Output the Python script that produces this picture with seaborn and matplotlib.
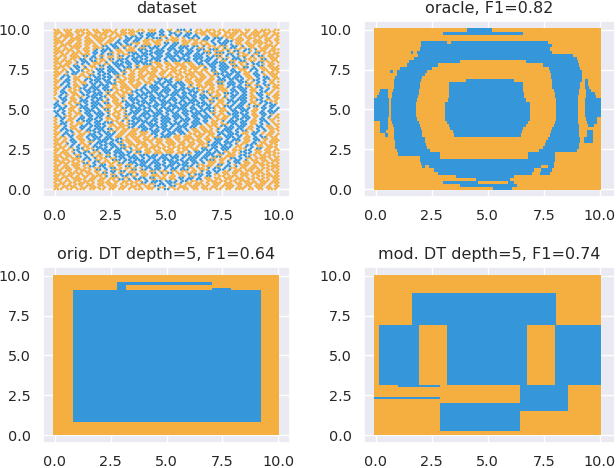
import numpy as np
import pandas as pd
import matplotlib.pyplot as plt
from matplotlib.colors import ListedColormap
import seaborn as sns

BLUE = '#3597da'
ORANGE = '#f5ae40'
TICKS = [0, 2.5, 5, 7.5, 10]
TICK_LABELS = ['0.0', '2.5', '5.0', '7.5', '10.0']

TITLES = ['dataset', 'oracle, F1=0.82', 'orig. DT depth=5, F1=0.64', 'mod. DT depth=5, F1=0.74']

# dataset, one string per row from y=10 down to y=0
DATASET_ROWS = [
    'oo ooo oooo oo ooo o oooo oo ooo b oo bbb b oo ooo oo oooo oo o ooo oo',
    'ooo oo o ooo oooo oo oooo bb bbb b  bb b bb ooo oo o oooo oo ooo oo oo',
    'o oooo oo o ooo oo oo b bb b bb  oo o b bb bb  b oo oooo o oo oooo o o',
    'oo o oooo oo ooo oo b bb bb ooo oo oooo o ooo bb b b b oooo o oo oo oo',
    'ooo oo oo ooo o oo bb b ooo oo oo bb bb oo ooo o b bbb  oo oo oooo o o',
    'o oo oooo o oo bb bb ooo b bbb bb b bb bbb bb b oo ooo bb b oo o oooo ',
    'oo ooo o oo ob bbb oo ooo bbb b bb bbb b bb bbb bbb ooo oo bb b oo ooo',
    'ooo o ooo o bb b oo oo bbb bb bbbb b bbb bb b bbb bbb oo oo b bb oo oo',
    'o oo ooo bb b oo oo bb bb bbb b bb bbbb bb bbb b bbb b b ooo b bb oo o',
    'oo o oo bb b ooo bb bbb bb bb bbb b bb bbb bbb bb b bb bbb oo o bb oo ',
    'ooo oo b bb ooo b bb bbb bbbb ooo oo oo ooo bb b bbbb bb ooo b bb oo o',
    'o ooo bb o oo bb b bbb b oo ooo oo oo ooo oo oo bb bbb bb oo o bb oo o',
    'oo o b b oo  bbb bb b oo oooo oo o ooo oo ooo oo b bbb b ooo bb oo ooo',
    'ooo b bb oo b bb bbb oo o oo ooo oo oo oo oooo o oo bb bbb oo b b oo o',
    'oo bb o oo bb bb b ooo oo ooo oo o oo oo ooo oo ooo bbb bb oo bb o oo ',
    'o b b oo  bb bbb b oo ooo oo oo bbb b oo oo ooo oo bb bbb b oo b bb oo',
    'oo bb o oo b bb bb ooo oo o oo bb bbb bb oo oo oo ooo bb bbb o b b o o',
    'o b b oo bb b bbb oo oo ooo b bb b bbb bb b oo ooo oo bb b bb oo bb oo',
    'oo b oo bb bbb bb oo ooo o bb bbb bb b bbb bb o oo ooo b bbb oo b b oo',
    'o bb oo b bbb b oo o oo bb b bbb bbb bb b bbb bb oo oo bb bb oo bb o o',
    'o b o oo bb bbb ooo oo bb bbb b bb bbbb b bb bb b oo o bb bb o bb o oo',
    'o bb oo b b bbb o oo b bbb bb bbb b bb bbb b bbb bb oo b bbb oo b b oo',
    ' b b oo bbb bb oo oo bb b bbb bb bbb b bb bbb b bb oo bbb bb oo bb oo ',
    'bb o o bb b bbb oo oo bbb bb b bbbb bb bbb bb bbb o oo b bb b oo b bb ',
    'b bb oo bbb bb ooo o bb bbb bb b bbb bbbb bb b bbb oo b bbb b o bb b b',
    'bb b oo b bbb b oo oo b bbb bbb bb bb b bbb bbb bb ooo bb bb oo b bbb ',
    ' b b o oo bb bbb oo o bb b bbb bbb b bb bb bbb b b oo bbb bb oo bb o o',
    'o bb oo bb b bb oo oo b bbb bb b bbb bbb b bb bbb o oo bb bbb o b b oo',
    'o b oo b bbb bb o oo b bb bbb bb bbb b bbb bb bb oo b bbb bb oo bb o o',
    'o bb o oo bb bbb oo oo bbb b bbb bb bbb bb bbb o oo oo bb bb oo b b oo',
    'oo b oo bb b bbb o ooo bb bbb b bbb b bbb bb oo o oo bbb bb oo bb oo o',
    'o b bb oo bbb bb ooo oo oo bb bbb bb bbb b oo ooo o bbb b bb o b b o o',
    'oo bb o oo bb b bbb oo ooo oo bb b bbb bb oo oo oo bb bbb oo bb o oo o',
    'o oo b oo b bbb bb oo o ooo oo b bbb oo ooo oo o ooo bbb b oo b bb oo ',
    'oo o bb oo bb bbb bb ooo oo ooo oo oo o oo ooo oo bb b bbb oo bb o ooo',
    'ooo b b oo b bb bbb oo oo ooo o oo ooo oo oo ooo bbb bb b oo bb oo oo ',
    'o oo b b oo bbb b bb ooo o oo ooo oo oo ooo o oo bb bbb oo b b oo ooo ',
    'oo oo bb oo bb bbb bb o ooo oo oo ooo o oo oo bbb b bb ooo bb oo oo oo',
    'o ooo b bb oo b bb bbb b oo oo ooo oo oo oo bb bbb bb oo o bb oo oo oo',
    'ooo oo bb b ooo bb bbb bbb b bbb bb bbb b bbb bb bbb ooo b bb o ooo oo',
    'oo oo oo b b oo o bbb bb bbb b bb bbb bb bbb b bbb oo o bb b oo oo ooo',
    'o ooo oo bb b oo oo bb bbb bb bbb b bbb bb bb b oo oo b bb oo ooo oo o',
    'oo oo oo o bb bb oo o bb b bbb bb bbb b bbb b ooo oo bb b oo oo o oooo',
    'ooo oo ooo o bb b ooo o bb bb bbb b bb bbb o ooo b bb b oo ooo oo oo o',
    'o oo oooo oo o bb b oo ooo oo bb b bb oo ooo o bb b oo oo oo oooo o oo',
    'oo ooo o oo ooo b bb bb oo oo ooo o oo oo oo b bb  oo ooo oo o oo oooo',
    'ooo o oooo oo oo oo bb b bb b oo oo oo b bb bb oo oo oo ooo oo oo o oo',
    'o oo oo ooo o oooo o oo oo bb bb b bbb b oo oo o ooo oo oo oooo oo ooo',
    'oo oooo o ooo oo ooo oo ooo oo bb b bb oo ooo oo oo oooo o oo ooo o oo',
    'ooo oo ooo oo oo oo oo o ooo oo b bb oo oo oo ooo oo oo ooo oo oo ooo ',
]

# more dataset points, half a cell across and down from the rows above
DATASET_ROWS_B = [
    'oo oo ooo o oo oooo oo ooo o oo bb b oo oo o ooo oo oo ooo o oooo oo o',
    'o oooo oo ooo oo o ooo oo b bbb bb b bb bb b oo ooo o oo oo ooo oo oo ',
    'oo o ooo oo oooo oo o bb bb b bbb b oo o bb b bb bbb oo oo ooo o oo oo',
    'ooo oo o ooo oo oo b bb bb oo ooo o oo ooo o oo b b bbb oo o ooo oo oo',
    'o ooo oo oo o oo bb b bb o ooo oo b bb oo oo ooo b bb b oo ooo o oo oo',
    'oo o ooo oo ooo b bb b oo oo bbb b bb bbb b oo o oo b bb oo oo ooo o o',
    'ooo oo o oo b bb b oo ooo b bb bbb b bbb bb b oo ooo b bb b o ooo oo o',
    'o oo oo ooo b b bb o oo bb bbb bb bb b bbb bbb o ooo bb b oo oo o ooo ',
    'oo o ooo o bb b oo oo b bbb b bbb bbb bb b bbb bb oo o bb b oo oo ooo ',
    'o ooo o bb bb oo o bb b bbb bb bb b bbb bb b bbb b oo oo bb oo ooo oo ',
    'oo oo o b b oo oo bbb bb b bbb oo oo ooo oo bb bbb bb oo o b bb o oo o',
    'ooo o bb b oo o bb b bbb b oo ooo o oo oo ooo b bb bbb oo bb b oo ooo ',
    'o oo b bb oo bb bbb bb oo ooo oo oo ooo oo o oo bb bb bb oo b b oo oo ',
    'oo o bb o oo b bb bb b oo o ooo oo o oo ooo oo o bbb bb b oo bb o ooo ',
    'o b b oo oo bb bbb b o oo oo ooo oo oo oo oo oo o b bb bbb oo b bb oo ',
    'oo bb oo b bbb bb b oo ooo o oo b bb oo oo ooo oo bbb b bb o bb b oo o',
    'o b b o oo bb b bbb oo o oo oo bbb b bbb oo o ooo bb bbb b oo b b oo o',
    'oo bb oo b bbb bb o ooo oo b bbb bb bb b oo ooo o oo b bbb oo bb o oo ',
    'o b o oo bb bb bbb oo oo bb b bb bbb bbb bb oo oo ooo bb bb oo b b o o',
    'o bb oo b b bbb b oo ooo b bbb bb b bb bbb b o oo o bbb b b o bb oo o',
    ' b b o oo bbb bb oo oo b bb bbb bbb b bbb bb bb ooo b bb bb oo b b oo ',
    'o bb oo bb b bb b oo o bbb b bb bb bbb b bbb b oo oo bb bbb o bb oo o ',
    'b b o oo b bbb bb ooo b bb bbb b bbb bb bbb bbb o oo b b bb oo b bb o ',
    'bb b oo bb bb b oo oo bbb bb bbb b bbb bb b bb b oo bbb bb o bb b bb  ',
    ' bb oo o bbb b bb o oo b bbb b bb bbb bbb bb bbb o oo bb bbb oo b b bb',
    'b b o oo bb bbb b oo o bbb bb bbb b bb bb bbb b oo o b bbb b o bb bb b',
    'bb oo o b bb bb b oo oo b bb bbb bb bbb b bb bbb oo oo bb bb oo b b oo',
    'o b oo bb bbb b oo o oo bbb b bb bbb b bbb bb b o ooo b bb b o bb oo o',
    'o bb o oo b bb bbb oo o bb bbb b bbb bb b bbb b oo o bbb bb oo b b o o',
    'oo b oo bb bbb b oo ooo b bb bbb bb b bbb bb o ooo bb b bbb o bb oo o ',
    'o bb oo b b bbb bb o oo oo bbb b bbb bb b oo oo o b bbb bb oo b b ooo ',
    'oo b b o oo bb bb b oo oo ooo bb b bb bb o oo ooo bb bb b oo bb o oo o',
    'o b bb oo bbb b bb oo ooo oo o b bbb oo oo ooo oo b bbb bb o b b oo oo',
    'oo o b oo b bb bbb bb o oo oo ooo oo oo ooo o oo bbb b bb oo bb oo oo ',
    'o oo bb o oo bbb b bb oo ooo o oo ooo oo oo oo b bb bbb o oo b oo ooo ',
    'oo o b b oo b bb bb bb ooo oo oo o oo oo oo oo bbb bb b oo bb oo oo oo',
    'ooo oo bb oo bbb b bbb b oo ooo oo oo ooo oo bb bb bbb o oo b bb oo o ',
    'o oo o b bb oo bb bbb bb bb oo oo ooo oo b bbb b bb oo o bb b oo ooo o',
    'oo oo oo b b oo o b bbb b bbb bb bbb b bbb bb bbb oo ooo bb oo oo oo o',
    'o oo ooo bb b oo oo bb bbb b bb bbb bb b bbb bb oo oo bb b oo ooo o oo',
    'ooo oo oo o bb oo oo b bb bbb bb b bbb bb bb b ooo o b bb oo oo oo ooo',
    'oo o ooo oo b bb o oo oo bbb b bbb bb bbb b oo oo bb b o ooo o ooo oo ',
    'o ooo oo oo oo b bb o ooo o bb bb b bb b oo oo b bb b oo oo ooo oo oo ',
    'oo oo o ooo oo o bb bb oo oo oo ooo oo oo oo b b bb oo ooo oo oo o ooo',
    'ooo oo oo oo ooo oo b bb b oo oo oo o oo b bbb b oo oo o ooo oo ooo o ',
    'o oo ooo o oo oo ooo oo b bb bb oo oo bb bb b oo oo ooo oo o oo oo ooo',
    'oo oo oo ooo oo o oo ooo oo b bbb bb b bb oo o ooo oo oo ooo o ooo oo ',
    'ooo o ooo oo oo ooo o oo ooo oo bb b oo oo ooo o oo ooo oo oo ooo o oo',
    'o oo oo oo ooo o oo oo oo o ooo oo oo ooo oo oo oo o oo ooo o oo oo oo',
]

# oracle: blue x intervals per 0.2 tall band, from y=10.1 downwards
ORACLE_BLUE = [
    [(4.1, 5.2)],
    [(3.0, 6.6)],
    [],
    [],
    [(2.05, 3.2), (3.4, 7.7)],
    [(2.05, 7.9)],
    [(2.0, 7.8)],
    [(1.6, 1.7), (1.85, 7.9)],
    [(1.9, 8.8)],
    [(1.75, 9.0)],
    [(1.5, 3.8), (6.7, 9.05)],
    [(1.4, 2.8), (7.5, 9.1)],
    [(1.1, 2.55), (7.75, 9.15)],
    [(0.65, 0.8), (0.95, 2.3), (7.8, 9.2)],
    [(0.95, 2.2), (7.85, 9.2)],
    [(0.9, 2.1), (7.85, 9.2)],
    [(0.85, 2.05), (4.05, 6.2), (7.9, 9.2), (9.35, 9.5)],
    [(0.85, 2.0), (3.3, 6.6), (7.9, 9.15), (9.35, 9.5)],
    [(0.85, 2.0), (3.3, 6.6), (7.9, 9.15), (9.35, 9.55)],
    [(0.2, 0.55), (0.8, 1.95), (3.3, 6.6), (7.95, 9.1), (9.4, 9.6)],
    [(0.15, 0.55), (0.75, 1.95), (3.3, 6.65), (8.0, 9.1), (9.4, 9.8)],
    [(0.1, 0.55), (0.75, 1.9), (3.3, 6.65), (8.0, 9.05), (9.4, 9.85)],
    [(-0.07, 0.6), (0.7, 1.85), (3.25, 6.7), (8.05, 9.05), (9.35, 10.03)],
    [(-0.07, 0.6), (0.7, 1.8), (3.1, 6.9), (8.05, 9.05), (9.35, 10.03)],
    [(-0.07, 0.6), (0.7, 1.8), (3.1, 6.9), (8.05, 9.05), (9.35, 10.03)],
    [(-0.07, 0.6), (0.7, 1.8), (3.1, 6.9), (8.05, 9.05), (9.35, 10.03)],
    [(-0.07, 0.6), (0.7, 1.8), (3.1, 6.9), (8.05, 9.05), (9.35, 10.03)],
    [(-0.07, 0.6), (0.7, 1.8), (3.1, 6.9), (8.05, 9.05), (9.35, 10.03)],
    [(-0.07, 0.55), (0.7, 1.85), (3.1, 6.9), (8.05, 9.05), (9.4, 9.9)],
    [(0.2, 0.55), (0.75, 1.95), (3.2, 6.8), (8.0, 9.05), (9.45, 9.9)],
    [(0.2, 0.55), (0.8, 2.0), (3.3, 6.7), (7.95, 9.1), (9.5, 9.75)],
    [(0.2, 0.55), (0.85, 2.05), (3.35, 6.6), (7.9, 9.1)],
    [(0.2, 0.5), (0.85, 2.1), (3.45, 6.55), (7.85, 9.1), (9.45, 9.7)],
    [(0.45, 0.55), (0.85, 2.1), (3.5, 6.5), (7.8, 9.1), (9.45, 9.7)],
    [(0.85, 2.2), (7.7, 9.15), (9.3, 9.7)],
    [(0.9, 2.2), (7.6, 9.15), (9.3, 9.7)],
    [(0.9, 2.25), (7.55, 9.1)],
    [(0.9, 2.3), (7.5, 9.1)],
    [(0.95, 2.45), (7.3, 9.0)],
    [(1.0, 2.9), (6.8, 8.0)],
    [(2.0, 2.9), (6.8, 8.0)],
    [(2.0, 8.0)],
    [(2.05, 7.95)],
    [(2.1, 2.2), (2.4, 7.4), (7.7, 7.95)],
    [(2.6, 7.1), (7.4, 7.9)],
    [(2.8, 7.0), (7.35, 7.8)],
    [(3.6, 6.2)],
    [(4.5, 6.0)],
    [(3.0, 4.6), (5.9, 6.2)],
    [(3.8, 6.3)],
    [(5.25, 6.1)],
]

# orig. DT leaves
ORIG_X = [-0.06, 0.8, 2.8, 3.17, 7.02, 7.88, 9.22, 10.03]
ORIG_Y = [-0.02, 0.81, 9.11, 9.25, 9.44, 9.63, 10.04]
ORIG_LEAVES = ['ooooooo', 'obbbbbo', 'ooboboo', 'ooboooo', 'oobbooo', 'ooooooo']

# mod. DT leaves
MOD_X = [-0.07, 0.15, 1, 1.6, 1.95, 2.87, 3.19, 6.43, 6.75, 8.0, 8.04, 8.59, 10.03]
MOD_Y = [-0.02, 0.23, 1.53, 2.03, 2.28, 2.36, 3.05, 3.15, 6.93, 8.9, 10.04]
MOD_LEAVES = ['oooooooooooo', 'ooooobbooooo', 'ooooobbbbbbo', 'ooooooobbbbo', 'bbbbboobbbbo',
              'ooooooobbbbo', 'oobbboobbbbo', 'obbboobbobbb', 'ooobbbbbbboo', 'oooooooooooo']

# pixel boxes of the four panels and their x/y limits
BOXES = [(43, 21, 290, 197), (364, 21, 615, 197), (43, 267, 290, 443), (364, 267, 615, 443)]
XLIMS = [(-0.52, 10.52), (-0.52, 10.67), (-0.52, 10.52), (-0.52, 10.67)]

cmap = ListedColormap([ORANGE, BLUE])


def draw_regions(ax, x_edges, y_edges, labels):
    ax.pcolormesh(x_edges, y_edges, np.array(labels), cmap=cmap, vmin=0, vmax=1, linewidth=0, rasterized=True)


def leaves_to_matrix(rows):
    return [[1 if c == 'b' else 0 for c in row] for row in rows]


def oracle_matrix():
    x_edges = np.arange(-0.07, 10.05, 0.05)
    y_edges = np.append(10.1 - 0.2 * np.arange(len(ORACLE_BLUE)), -0.05)
    centers = (x_edges[:-1] + x_edges[1:]) / 2
    labels = np.zeros((len(ORACLE_BLUE), len(centers)))
    for i, spans in enumerate(ORACLE_BLUE):
        for x0, x1 in spans:
            labels[i, (centers >= x0) & (centers <= x1)] = 1
    return x_edges, y_edges, labels


def dataset_frame():
    cells = []
    for r, row in enumerate(DATASET_ROWS):
        for c, ch in enumerate(row):
            if ch != ' ':
                cells.append((c * 10 / 69, 10 - r * 10 / 49, ch))
    for r, row in enumerate(DATASET_ROWS_B):
        for c, ch in enumerate(row[:69]):
            if ch != ' ':
                cells.append(((c + 0.5) * 10 / 69, 10 - (r + 0.5) * 10 / 49, ch))
    return pd.DataFrame(cells, columns=['x', 'y', 'label'])


sns.set_theme(style='darkgrid')
plt.rcParams['font.family'] = ['DejaVu Sans']

fig, axes = plt.subplots(2, 2, figsize=(6.16, 4.68), dpi=100)
axes = axes.ravel()

sns.scatterplot(data=dataset_frame(), x='x', y='y', hue='label', palette={'b': BLUE, 'o': ORANGE},
                s=3.5, marker='o', linewidth=0, legend=False, ax=axes[0])
draw_regions(axes[1], *oracle_matrix())
draw_regions(axes[2], ORIG_X, ORIG_Y, leaves_to_matrix(ORIG_LEAVES))
draw_regions(axes[3], MOD_X, MOD_Y, leaves_to_matrix(MOD_LEAVES))

for ax, title, box, xlim in zip(axes, TITLES, BOXES, XLIMS):
    x0, y0, x1, y1 = box
    ax.set_position([x0 / 616, 1 - y1 / 468, (x1 - x0) / 616, (y1 - y0) / 468])
    ax.set_xlim(*xlim)
    ax.set_ylim(-0.5, 10.56)
    ax.set_xticks(TICKS, TICK_LABELS)
    ax.set_yticks(TICKS, TICK_LABELS)
    ax.tick_params(labelsize=10.4, pad=2.6, colors='.15')
    ax.set_xlabel('')
    ax.set_ylabel('')
    ax.set_title(title, fontsize=11.5, color='.15', pad=6)

fig.savefig('out.png', dpi=100)
